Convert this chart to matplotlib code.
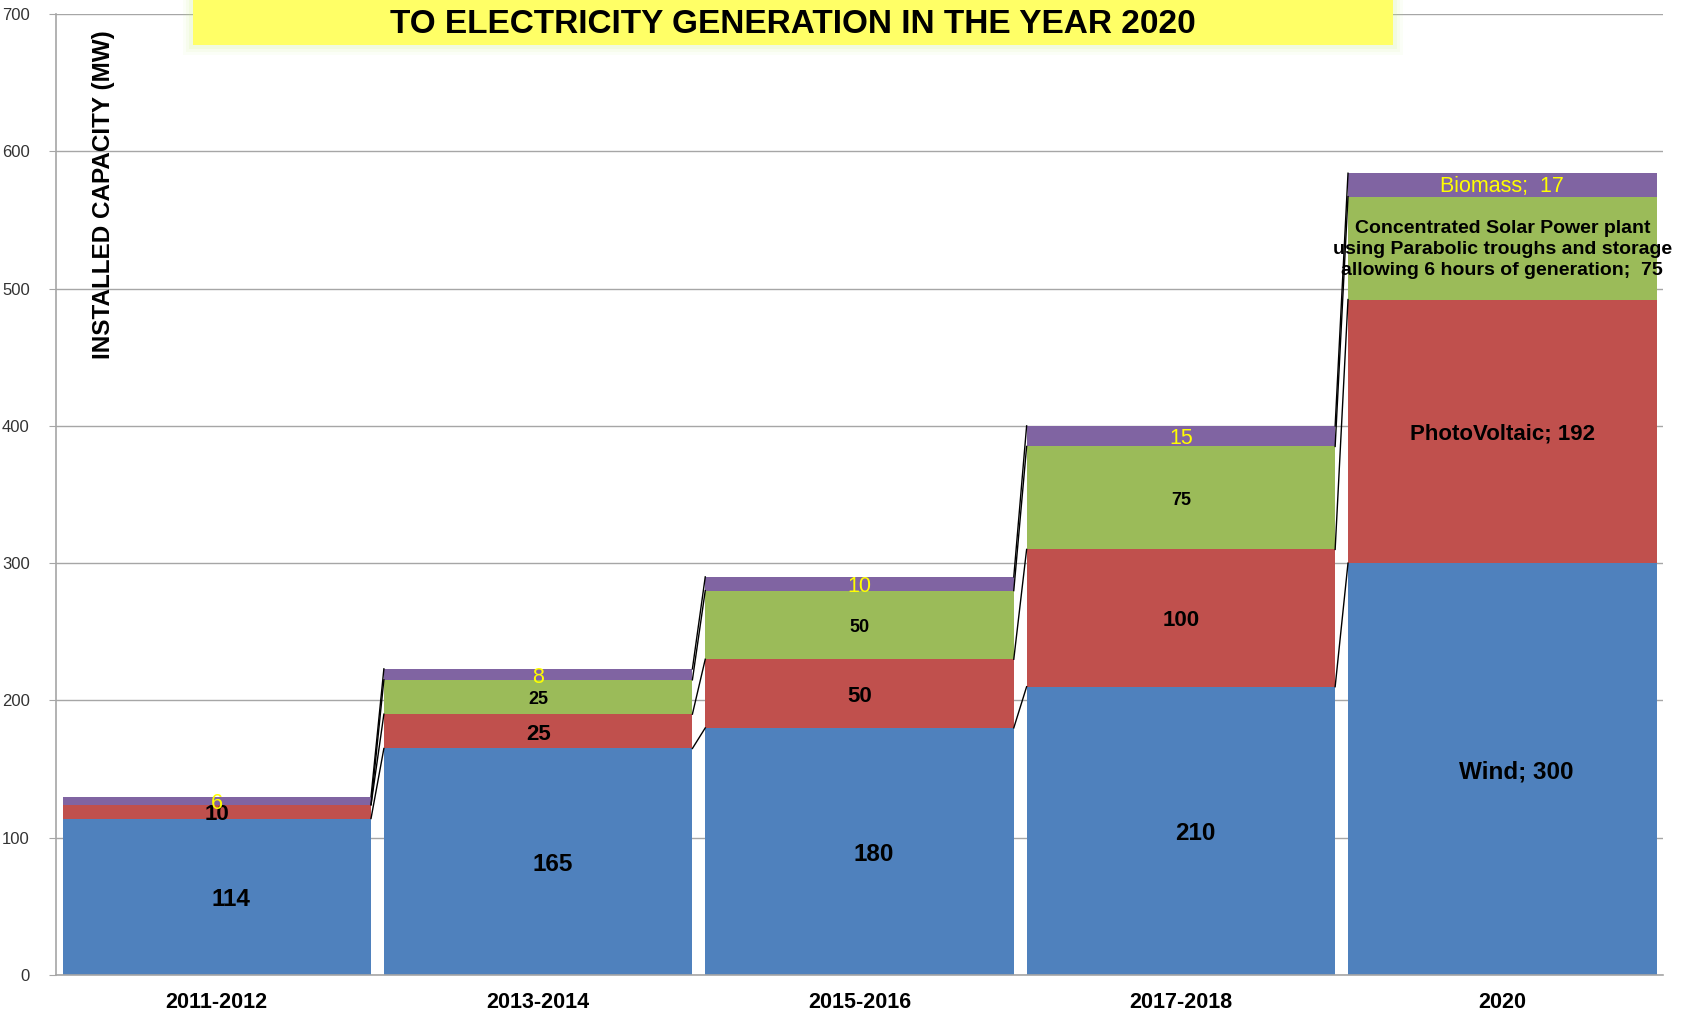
import matplotlib
matplotlib.use('Agg')
import matplotlib.pyplot as plt
import matplotlib.font_manager as fm
import numpy as np
from matplotlib.patches import FancyBboxPatch

# Data
periods = ['2011-2012', '2013-2014', '2015-2016', '2017-2018', '2020']
wind = [114, 165, 180, 210, 300]
pv = [10, 25, 50, 100, 192]
csp = [0, 25, 50, 75, 75]
biomass = [6, 8, 10, 15, 17]
yticks = [0, 100, 200, 300, 400, 500, 600, 700]

series_colors = ['#4F81BD', '#C0504D', '#9BBB59', '#8064A2']

# Arial Narrow look-alike if available
names = {f.name for f in fm.fontManager.ttflist}
narrow = 'Liberation Sans Narrow' if 'Liberation Sans Narrow' in names else 'Liberation Sans'
plt.rcParams['font.family'] = ['Liberation Sans', 'DejaVu Sans']

fig = plt.figure(figsize=(16.84, 10.13), dpi=100)
ax = fig.add_axes([0.0333, 0.0375, 0.9542, 0.9487])

x = np.arange(len(periods))
w = 0.96
stack = [wind, pv, csp, biomass]
bottom = np.zeros(len(periods))
levels = []
for vals, col in zip(stack, series_colors):
    ax.bar(x, vals, w, bottom=bottom, color=col, zorder=2)
    bottom = bottom + np.array(vals)
    levels.append(bottom.copy())

# Excel-style series lines between bars
for lev in levels:
    for i in range(len(periods) - 1):
        ax.plot([x[i] + w / 2, x[i + 1] - w / 2], [lev[i], lev[i + 1]],
                color='black', lw=1.0, zorder=3)

ax.set_xlim(-0.5, len(periods) - 0.5)
ax.set_ylim(0, 700)
ax.set_yticks(yticks)
ax.yaxis.grid(True, color='#a6a6a6', lw=1, zorder=0)
ax.set_axisbelow(True)
for s in ['top', 'right']:
    ax.spines[s].set_visible(False)
for s in ['left', 'bottom']:
    ax.spines[s].set_color('#a6a6a6')
    ax.spines[s].set_linewidth(1.2)
ax.tick_params(axis='y', length=5, color='#a6a6a6', labelsize=12, pad=14)
ax.tick_params(axis='x', length=0, labelsize=15.5, pad=12)
ax.set_xticks(x)
ax.set_xticklabels(periods, fontweight='bold')
for t in ax.get_yticklabels():
    t.set_family(narrow)
    t.set_color('#333333')

# Data labels
dy = -2  # labels sit a touch below the segment centre
for i in range(len(periods)):
    # wind
    lbl = f'Wind; {wind[i]}' if i == 4 else str(wind[i])
    ax.text(x[i] + 0.045, wind[i] / 2 + dy, lbl, ha='center', va='center',
            fontsize=17.5, fontweight='bold', zorder=4)
    # photovoltaic
    lbl = f'PhotoVoltaic; {pv[i]}' if i == 4 else str(pv[i])
    ax.text(x[i], wind[i] + pv[i] / 2 + dy, lbl, ha='center', va='center',
            fontsize=16, fontweight='bold', zorder=4)
    # csp
    if csp[i] > 0:
        if i == 4:
            lbl = ('Concentrated Solar Power plant\nusing Parabolic troughs and storage\n'
                   f'allowing 6 hours of generation;  {csp[i]}')
            ax.text(x[i], wind[i] + pv[i] + csp[i] / 2 - 1, lbl, ha='center',
                    va='center', fontsize=14, fontweight='bold', linespacing=1.3, zorder=4)
        else:
            ax.text(x[i], wind[i] + pv[i] + csp[i] / 2 + dy, str(csp[i]), ha='center',
                    va='center', fontsize=13, fontweight='bold', zorder=4)
    # biomass
    top = wind[i] + pv[i] + csp[i]
    lbl = f'Biomass;  {biomass[i]}' if i == 4 else str(biomass[i])
    ax.text(x[i], top + biomass[i] / 2 - (2 if i < 4 else 1.5), lbl, ha='center',
            va='center', fontsize=15.5, color='#FFFF00', zorder=5)

# Axis title inside plot area
fig.text(0.0615, 0.808, 'INSTALLED CAPACITY (MW)', rotation=90, ha='center',
         va='center', fontsize=17.5, fontweight='bold')

# Title box
for k, a in [(10, 0.06), (7, 0.08), (4, 0.12)]:
    glow = FancyBboxPatch((0.1146 - k / 1684, 0.956 - k / 1013), 0.7128 + 2 * k / 1684,
                          0.05 + k / 1013, boxstyle='square,pad=0',
                          transform=fig.transFigure, facecolor='#c8f07a', alpha=a,
                          edgecolor='none', zorder=9)
    fig.patches.append(glow)
box = FancyBboxPatch((0.1146, 0.956), 0.7128, 0.05, boxstyle='square,pad=0',
                     transform=fig.transFigure, facecolor='#FFFF66', edgecolor='none', zorder=10)
fig.patches.append(box)
fig.text(0.471, 0.976, 'TO ELECTRICITY GENERATION IN THE YEAR 2020', ha='center',
         va='center', fontsize=24, fontweight='bold', family=narrow, zorder=11)

fig.savefig('out.png', dpi=100)
